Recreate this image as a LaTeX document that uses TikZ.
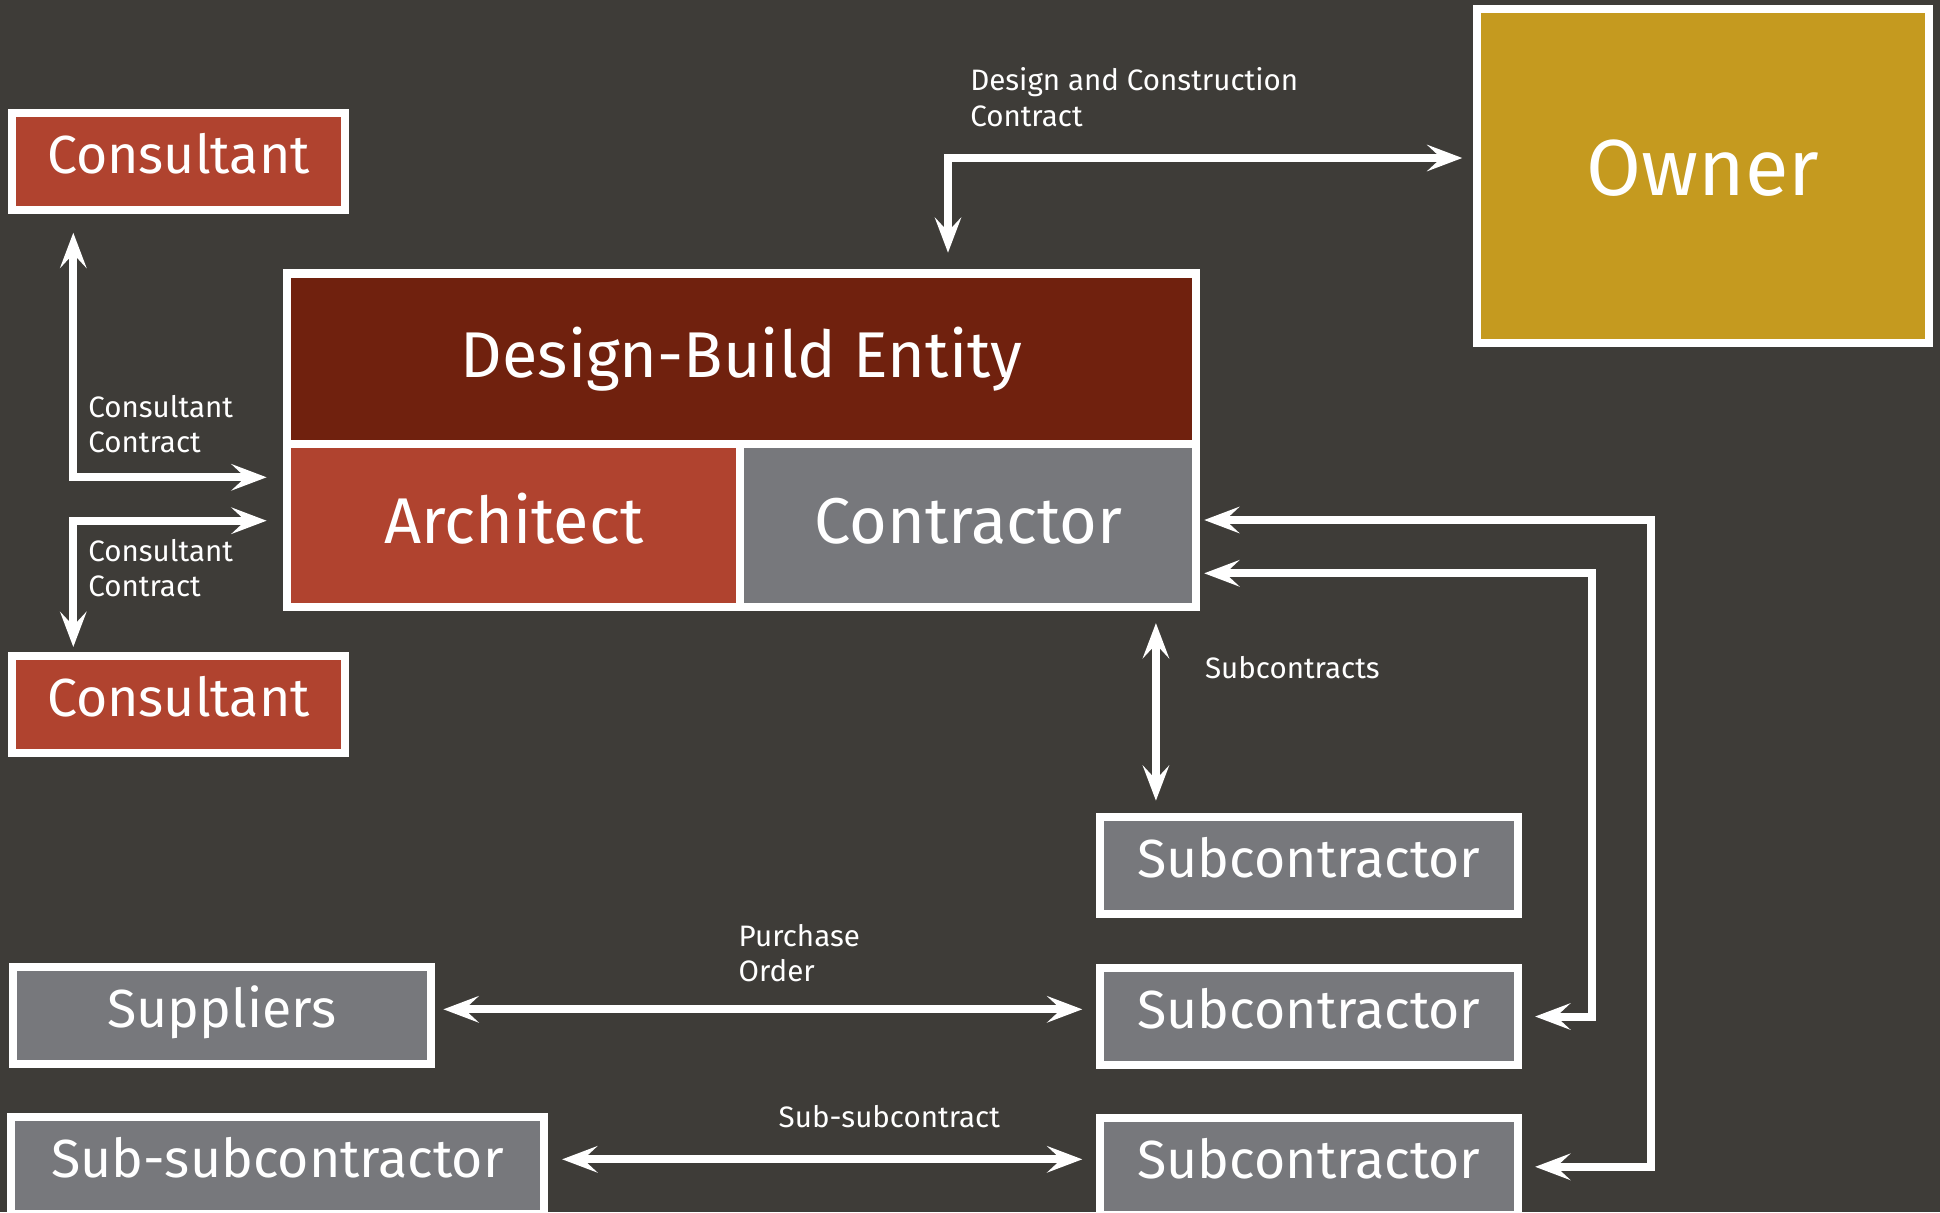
\documentclass[tikz,border=0pt]{standalone}
\usepackage{fontspec}
\setmainfont{Fira Sans}
\usetikzlibrary{arrows.meta}
\definecolor{backdrop}{RGB}{62,60,56}
\definecolor{darkred}{RGB}{112,33,14}
\definecolor{brick}{RGB}{176,67,47}
\definecolor{slate}{RGB}{119,120,124}
\definecolor{gold}{RGB}{197,154,31}
\tikzset{
	party/.style={draw=white, line width=2.28pt, inner sep=0pt, outer sep=0pt, text=white},
	smallbox/.style={party, minimum height=0.97cm, text height=11.5pt, text depth=4.7pt, font=\fontsize{15.25}{18}\selectfont},
	bigbox/.style={party, text height=14pt, text depth=3.5pt, font=\fontsize{18.4}{22}\selectfont},
	ownerbox/.style={party, text height=17.2pt, text depth=6.1pt, font=\fontsize{22.6}{27}\selectfont},
	pairarrow/.style={draw=white, line width=2.28pt, {Stealth[length=10pt,width=7.5pt,inset=4pt]}-{Stealth[length=10pt,width=7.5pt,inset=4pt]}},
	note/.style={text=white, anchor=base west, inner sep=0pt, align=left, font=\fontsize{8.4}{10}\selectfont}
}
\begin{document}
\begin{tikzpicture}[x=0.01cm, y=-0.01cm]
	% page and background
	\useasboundingbox (0,0) rectangle (1940,1212);
	\clip (0,0) rectangle (1940,1212);
	\fill[backdrop] (0,0) rectangle (1940,1212);
	% the owner
	\node[ownerbox, fill=gold, minimum width=4.51cm, minimum height=3.34cm] (owner) at (1703,176.3) {Owner};
	% the design-build entity: top band, architect, contractor
	\node[bigbox, fill=darkred, minimum width=9.09cm, minimum height=1.705cm] (entity) at (741.5,358.8) {Design-Build Entity};
	\node[bigbox, fill=brick, minimum width=4.535cm, minimum height=1.627cm] (architect) at (513.8,525.4) {Architect};
	\node[bigbox, fill=slate, minimum width=4.555cm, minimum height=1.627cm] (contractor) at (968.3,525.4) {Contractor};
	% consultants
	\node[smallbox, fill=brick, minimum width=3.33cm] (consultA) at (178.5,161.5) {Consultant};
	\node[smallbox, fill=brick, minimum width=3.33cm] (consultB) at (178.5,704.5) {Consultant};
	% subcontractors
	\node[smallbox, fill=slate, minimum width=4.18cm] (subA) at (1309,865.5) {Subcontractor};
	\node[smallbox, fill=slate, minimum width=4.18cm] (subB) at (1309,1016.5) {Subcontractor};
	\node[smallbox, fill=slate, minimum width=4.18cm] (subC) at (1309,1166.8) {Subcontractor};
	% suppliers and sub-subcontractor
	\node[smallbox, fill=slate, minimum width=4.18cm] (suppliers) at (222,1015.5) {Suppliers};
	\node[smallbox, fill=slate, minimum width=5.33cm] (subsub) at (277.5,1165.2) {Sub-subcontractor};
	% bend points of the links
	\coordinate (dcbend) at (948,158);
	\coordinate (ctop) at (73.3,477.3);
	\coordinate (cbot) at (73.3,520.7);
	\coordinate (outerbend) at (1651,520);
	\coordinate (innerbend) at (1592,573.3);
	\coordinate (tapA) at ([xshift=0.56cm]subA.north west);
	\coordinate (poline) at (0,1009.3);
	\coordinate (ssline) at (0,1159.3);
	% owner -- entity
	\draw[pairarrow, shorten <=0.208cm, shorten >=0.151cm] (entity.north -| dcbend) -- (dcbend) -- (dcbend -| owner.west);
	% consultants -- architect
	\draw[pairarrow, shorten <=0.227cm, shorten >=0.203cm] (consultA.south -| ctop) -- (ctop) -- (ctop -| architect.west);
	\draw[pairarrow, shorten <=0.203cm, shorten >=0.09cm] (cbot -| architect.west) -- (cbot) -- (cbot |- consultB.north);
	% contractor -- subcontractors
	\draw[pairarrow, shorten <=0.08cm, shorten >=0.17cm] (outerbend -| contractor.east) -- (outerbend) -- (outerbend |- subC.east) -- (subC.east);
	\draw[pairarrow, shorten <=0.08cm, shorten >=0.17cm] (innerbend -| contractor.east) -- (innerbend) -- (innerbend |- subB.east) -- (subB.east);
	\draw[pairarrow, shorten <=0.163cm, shorten >=0.163cm] (tapA |- contractor.south) -- (tapA);
	% suppliers and sub-subcontractor
	\draw[pairarrow, shorten <=0.123cm, shorten >=0.176cm] (poline -| suppliers.east) -- (poline -| subB.west);
	\draw[pairarrow, shorten <=0.18cm, shorten >=0.176cm] (ssline -| subsub.east) -- (ssline -| subC.west);
	% labels (base = last line)
	\node[note] (dclabel) at (969.6,126) {Design and Construction\\Contract};
	\node[note] (cclabelA) at (87.7,452.7) {Consultant\\Contract};
	\node[note] (cclabelB) at (87.7,596.6) {Consultant\\Contract};
	\node[note] (sublabel) at (1204.4,678.3) {Subcontracts};
	\node[note] (polabel) at (738,981.7) {Purchase\\Order};
	\node[note] (sslabel) at (778,1127.7) {Sub-subcontract};
\end{tikzpicture}
\end{document}
